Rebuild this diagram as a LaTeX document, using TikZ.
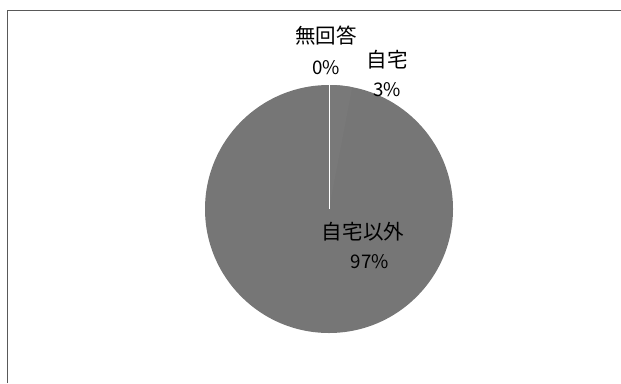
\documentclass[tikz,border=0pt]{standalone}
\usepackage{fontspec}
\newfontfamily\jp{Noto Sans CJK JP}
\definecolor{piegray}{RGB}{118,118,118}
\definecolor{piegraytwo}{RGB}{121,121,121}
\begin{document}
\begin{tikzpicture}[x=0.03cm,y=-0.03cm,
  lbl/.style={font=\jp\fontsize{17.5}{17.5}\selectfont, inner sep=0pt},
  pct/.style={font=\jp\fontsize{16}{16}\selectfont, inner sep=0pt}]
\useasboundingbox (0,0) rectangle (621,383);
\draw[black!65, line width=0.8pt] (7,383) -- (7,10) -- (621,10);
\coordinate (c) at (329,209);
\coordinate (top) at (329,85);
\fill[piegray] (c) circle (124);
\fill[piegraytwo] (c) -- (top) arc[start angle=-90, end angle=-79.2, radius=124] -- cycle;
\draw[white, line width=0.6pt] (c) -- (top);
\node[lbl] (v1) at (326,36) {無回答};
\node[pct] (v2) at (326,68) {0\%};
\node[lbl] (v3) at (387,60) {自宅};
\node[pct] (v4) at (387,90) {3\%};
\node[lbl] (v5) at (363,232) {自宅以外};
\node[pct] (v6) at (370,262) {97\%};
\end{tikzpicture}
\end{document}
